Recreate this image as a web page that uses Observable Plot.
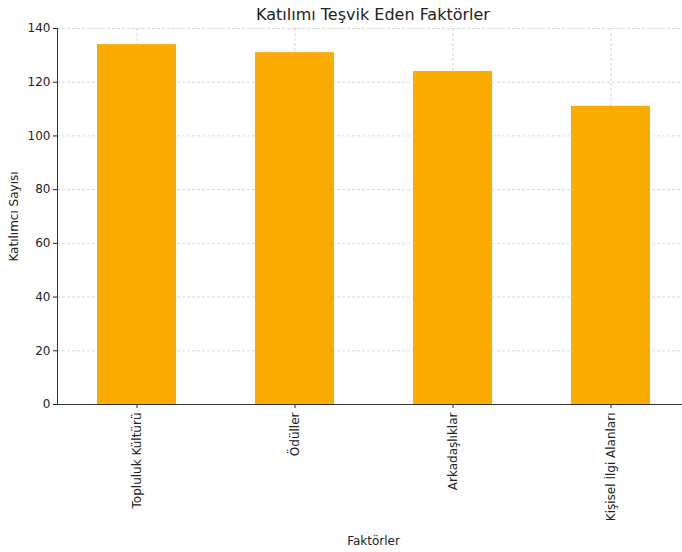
<!DOCTYPE html>
<html><head><meta charset="utf-8">
<script src="https://cdn.jsdelivr.net/npm/d3@7"></script>
<script src="https://cdn.jsdelivr.net/npm/@observablehq/plot@0.6"></script>
<style>
body{margin:0;background:#fff;font-family:"DejaVu Sans",sans-serif;overflow:hidden;}
#title{height:22px;line-height:30px;font-size:16px;color:#222;text-align:center;width:682px;padding-left:64px;box-sizing:border-box;}
svg{overflow:visible;}
</style></head><body>
<div id="title">Katılımı Teşvik Eden Faktörler</div>
<div id="chart"></div>
<script>
const factors = ["Topluluk Kültürü", "Ödüller", "Arkadaşlıklar", "Kişisel İlgi Alanları"];
const counts = [134, 131, 124, 111];
const yTicks = [0, 20, 40, 60, 80, 100, 120, 140];
const data = factors.map((f, i) => ({factor: f, count: counts[i]}));

const chart = Plot.plot({
  width: 682,
  height: 530,
  marginLeft: 57,
  marginRight: -7,
  marginTop: 6,
  marginBottom: 148,
  style: {fontFamily: "DejaVu Sans, sans-serif", fontSize: "12px", color: "#222", overflow: "visible"},
  x: {domain: factors, paddingInner: 0.5, paddingOuter: 0.25, align: 0.5},
  y: {domain: [0, 140]},
  marks: [
    Plot.gridX(factors, {stroke: "#ccc", strokeOpacity: 0.8, strokeDasharray: "3,2"}),
    Plot.gridY(yTicks, {stroke: "#ccc", strokeOpacity: 0.8, strokeDasharray: "3,2"}),
    Plot.barY(data, {x: "factor", y: "count", fill: "#FCAB00"}),
    Plot.axisY(yTicks, {tickSize: 4, tickPadding: 3, fontSize: 12, label: "Katılımcı Sayısı", labelAnchor: "center", labelArrow: "none", labelOffset: 48}),
    Plot.axisX({tickSize: 4, tickRotate: -90, tickPadding: 4, fontSize: 12, label: "Faktörler", labelAnchor: "center", labelArrow: "none", labelOffset: 140}),
    Plot.frame({anchor: "left", stroke: "#333"}),
    Plot.frame({anchor: "bottom", stroke: "#333"})
  ]
});
document.getElementById("chart").appendChild(chart);
</script>
</body></html>
